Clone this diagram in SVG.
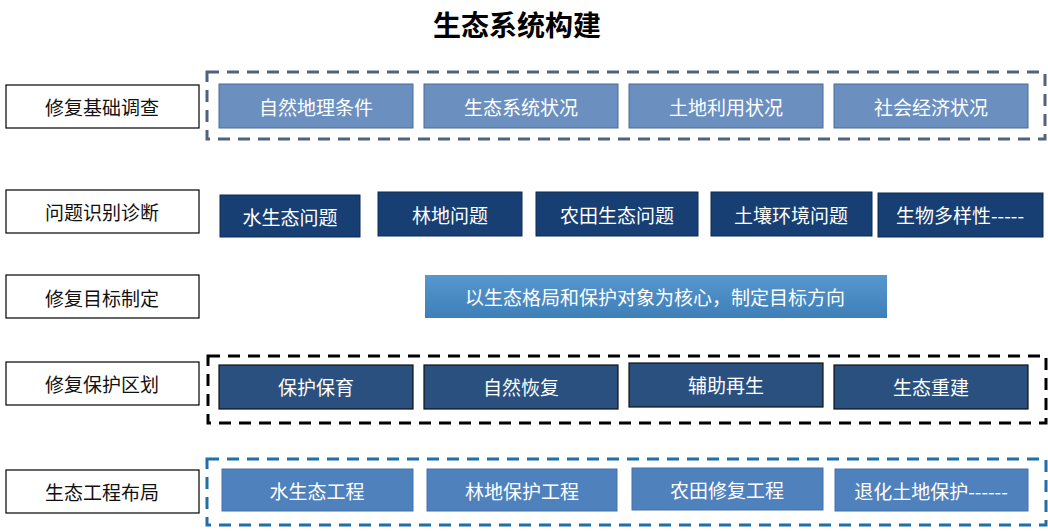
<svg xmlns="http://www.w3.org/2000/svg" width="1048" height="531" viewBox="0 0 1048 531">
<defs>
<style>
text{font-family:"Microsoft YaHei","Noto Sans CJK SC",sans-serif;text-anchor:middle;dominant-baseline:central}
.lb rect{fill:#fff;stroke:#000;stroke-width:1.2}
.lb text{font-size:19px;fill:#111}
.w{fill:#fff;font-size:19px}
.r1{fill:#6b90bf;stroke:#4a6a95;stroke-width:1}
.r2{fill:#173f74;stroke:#0e2a50;stroke-width:1}
.r4{fill:#2a5080;stroke:#111;stroke-width:1.2}
.r5{fill:#4f81bd;stroke:#4471a8;stroke-width:1}
</style>
<linearGradient id="g" x1="0" y1="0" x2="0" y2="1"><stop offset="0" stop-color="#5797cf"/><stop offset="1" stop-color="#3f7fb8"/></linearGradient>
</defs>
<rect width="1048" height="531" fill="#fff"/>
<text x="517" y="24" style="font-size:28px;font-weight:bold;fill:#000">生态系统构建</text>
<g id="frames" fill="none" stroke-width="3" stroke-dasharray="12 8">
<rect x="207" y="72" width="838" height="67" stroke="#4f6280"/>
<rect x="208" y="356" width="838" height="67" stroke="#000"/>
<rect x="207" y="459" width="839" height="66" stroke="#1f6fa8"/>
</g>
<g id="labels" class="lb">
<g id="l1"><rect x="6" y="85" width="193" height="43"/><text x="102" y="106">修复基础调查</text></g>
<g id="l2"><rect x="6" y="190" width="193" height="43"/><text x="102" y="211">问题识别诊断</text></g>
<g id="l3"><rect x="6" y="275" width="193" height="43"/><text x="102" y="297">修复目标制定</text></g>
<g id="l4"><rect x="6" y="362" width="193" height="43"/><text x="102" y="383">修复保护区划</text></g>
<g id="l5"><rect x="6" y="470" width="193" height="43"/><text x="102" y="491">生态工程布局</text></g>
</g>
<g id="row1">
<g id="a1"><rect class="r1" x="219" y="84" width="194" height="44"/><text class="w" x="316" y="106">自然地理条件</text></g>
<g id="a2"><rect class="r1" x="424" y="84" width="194" height="44"/><text class="w" x="521" y="106">生态系统状况</text></g>
<g id="a3"><rect class="r1" x="629" y="84" width="194" height="44"/><text class="w" x="726" y="106">土地利用状况</text></g>
<g id="a4"><rect class="r1" x="834" y="84" width="194" height="44"/><text class="w" x="931" y="106">社会经济状况</text></g>
</g>
<g id="row2">
<g id="b1"><rect class="r2" x="220" y="195" width="140" height="42"/><text class="w" x="290" y="216">水生态问题</text></g>
<g id="b2"><rect class="r2" x="378" y="192" width="144" height="44"/><text class="w" x="450" y="214">林地问题</text></g>
<g id="b3"><rect class="r2" x="536" y="192" width="162" height="44"/><text class="w" x="617" y="214">农田生态问题</text></g>
<g id="b4"><rect class="r2" x="711" y="192" width="161" height="44"/><text class="w" x="791" y="214">土壤环境问题</text></g>
<g id="b5"><rect class="r2" x="878" y="193" width="165" height="44"/><text class="w" x="960" y="214">生物多样性-----</text></g>
</g>
<g id="row3">
<g id="c1"><rect x="425" y="275" width="462" height="43" fill="url(#g)"/><text class="w" x="655" y="296">以生态格局和保护对象为核心，制定目标方向</text></g>
</g>
<g id="row4">
<g id="d1"><rect class="r4" x="219" y="365" width="194" height="44"/><text class="w" x="316" y="386">保护保育</text></g>
<g id="d2"><rect class="r4" x="424" y="365" width="194" height="44"/><text class="w" x="521" y="386">自然恢复</text></g>
<g id="d3"><rect class="r4" x="629" y="363" width="194" height="44"/><text class="w" x="726" y="384">辅助再生</text></g>
<g id="d4"><rect class="r4" x="834" y="365" width="194" height="44"/><text class="w" x="931" y="386">生态重建</text></g>
</g>
<g id="row5">
<g id="e1"><rect class="r5" x="222" y="469" width="191" height="42"/><text class="w" x="317" y="490">水生态工程</text></g>
<g id="e2"><rect class="r5" x="427" y="469" width="190" height="42"/><text class="w" x="522" y="490">林地保护工程</text></g>
<g id="e3"><rect class="r5" x="632" y="468" width="191" height="42"/><text class="w" x="727" y="489">农田修复工程</text></g>
<g id="e4"><rect class="r5" x="835" y="469" width="193" height="42"/><text class="w" x="931" y="490">退化土地保护------</text></g>
</g>
<g id="connectors"/>
</svg>
